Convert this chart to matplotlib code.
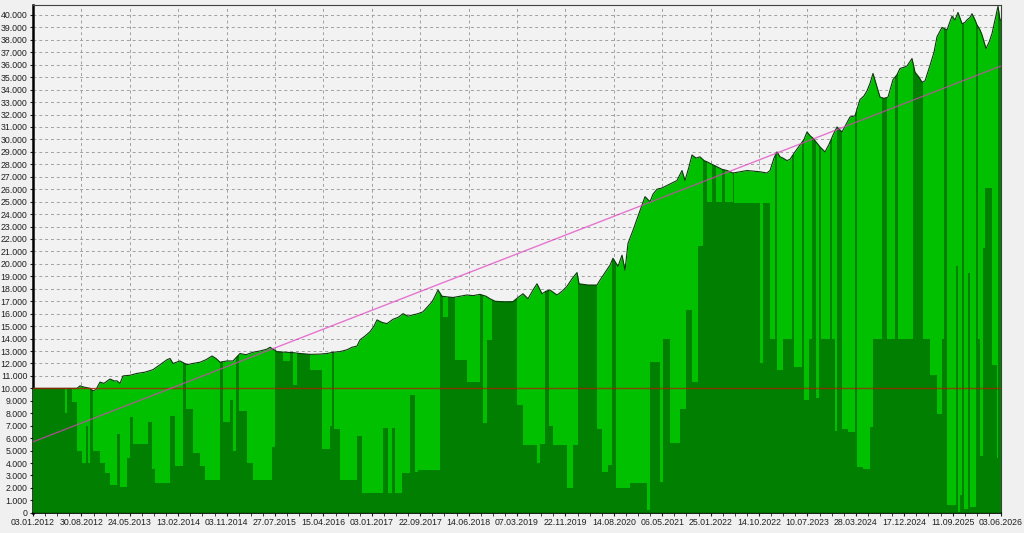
import numpy as np
import matplotlib.pyplot as plt
from matplotlib.ticker import FuncFormatter

# equity curve: deal index -> value in thousands
eq_x = [0, 44, 47, 51, 57, 60, 63, 67, 71, 77, 81, 84, 87, 90, 97, 104, 112, 120, 127, 134,
        137, 140, 147, 154, 160, 167, 173, 179, 183, 187, 194, 200, 207, 213, 220, 227, 234, 237, 244, 252,
        260, 267, 277, 287, 294, 300, 307, 314, 319, 324, 327, 332, 337, 341, 344, 349, 354, 360, 365, 370,
        375, 380, 385, 390, 395, 399, 402, 405, 409, 414, 420, 427, 434, 440, 447, 453, 457, 462, 467, 474,
        480, 485, 490, 495, 500, 504, 509, 513, 517, 524, 529, 534, 539, 544, 546, 555, 564, 567, 572, 577,
        580, 585, 589, 592, 595, 600, 604, 607, 612, 617, 620, 624, 629, 634, 639, 644, 649, 652, 656, 659,
        663, 667, 671, 674, 679, 684, 689, 694, 700, 707, 714, 720, 727, 734, 737, 741, 744, 747, 750, 754,
        757, 762, 767, 771, 774, 777, 780, 784, 787, 792, 796, 800, 804, 809, 813, 817, 822, 827, 831, 834,
        837, 840, 844, 847, 851, 855, 860, 864, 867, 871, 874, 879, 882, 886, 889, 892, 897, 901, 904, 909,
        914, 919, 922, 925, 929, 932, 934, 937, 939, 942, 944, 947, 949, 953, 956, 959, 962, 965, 967, 968]
eq_k = [10.0, 10.0, 10.2, 10.1, 10.0, 9.8, 9.9, 10.5, 10.4, 10.75, 10.6, 10.6, 10.4, 11.0, 11.05, 11.2, 11.3, 11.5, 11.9, 12.3,
        12.4, 12.0, 12.2, 11.9, 12.0, 12.1, 12.3, 12.6, 12.4, 12.1, 12.2, 12.2, 12.8, 12.7, 12.9, 13.0, 13.15, 13.3, 12.95, 12.9,
        12.87, 12.8, 12.73, 12.75, 12.8, 12.9, 12.95, 13.1, 13.3, 13.4, 13.9, 14.2, 14.55, 15.0, 15.5, 15.3, 15.2, 15.55, 15.7, 16.0,
        15.8, 15.9, 16.0, 16.15, 16.6, 16.95, 17.4, 17.9, 17.4, 17.35, 17.3, 17.4, 17.5, 17.45, 17.55, 17.4, 17.2, 17.0, 16.97, 16.95,
        16.97, 17.3, 17.6, 17.2, 17.9, 18.4, 17.6, 17.8, 17.9, 17.5, 17.8, 18.2, 18.8, 19.3, 18.4, 18.3, 18.3, 18.7, 19.3, 19.9,
        20.45, 19.8, 20.7, 19.5, 21.65, 22.7, 23.6, 24.3, 25.4, 25.0, 25.6, 26.0, 26.1, 26.3, 26.5, 26.7, 27.5, 26.7, 27.8, 28.75,
        28.5, 28.6, 28.3, 28.2, 28.0, 27.8, 27.6, 27.5, 27.3, 27.4, 27.5, 27.45, 27.4, 27.3, 27.5, 28.5, 29.0, 28.6, 28.5, 28.3,
        28.4, 29.0, 29.55, 30.0, 30.6, 30.3, 30.1, 29.7, 29.4, 29.0, 29.6, 30.35, 31.0, 30.6, 31.2, 31.8, 31.9, 33.2, 33.5, 33.9,
        34.5, 35.3, 34.2, 33.4, 33.3, 33.4, 34.8, 35.2, 35.7, 35.8, 35.9, 36.5, 35.4, 35.0, 34.6, 34.7, 35.95, 37.0, 38.25, 39.0,
        38.8, 39.9, 39.6, 40.2, 39.3, 39.4, 39.6, 39.8, 40.1, 39.6, 39.2, 38.8, 38.4, 37.3, 37.8, 38.5, 39.6, 40.7, 39.6, 39.6]

# second series (step bars), 45 = reaches up to the equity curve
dark_x = [0, 32, 34, 39, 44, 49, 53, 55, 57, 60, 67, 72, 77, 84, 87, 94, 97, 100, 115, 119,
          122, 137, 142, 150, 153, 160, 167, 172, 187, 190, 197, 200, 203, 206, 214, 220, 239, 242, 250, 257,
          260, 264, 277, 289, 297, 299, 301, 307, 324, 329, 350, 355, 359, 362, 369, 377, 382, 385, 407, 410,
          415, 422, 434, 447, 450, 454, 459, 484, 490, 504, 507, 512, 516, 520, 534, 540, 545, 564, 569, 575,
          579, 583, 597, 614, 617, 627, 630, 637, 647, 653, 659, 665, 670, 674, 679, 683, 689, 692, 700, 701,
          727, 730, 737, 742, 744, 750, 759, 761, 769, 771, 776, 779, 783, 786, 788, 797, 799, 802, 804, 809,
          815, 822, 824, 830, 837, 840, 849, 854, 862, 865, 880, 890, 897, 904, 909, 911, 914, 923, 925, 927,
          929, 931, 935, 937, 943, 945, 947, 950, 952, 959, 964, 965, 968]
dark_k = [10.0, 8.0, 10.0, 8.9, 5.0, 4.0, 7.0, 4.0, 45, 5.0, 4.0, 3.2, 2.2, 6.3, 2.1, 4.4, 7.7, 5.5, 7.3, 3.5,
          2.4, 7.8, 3.8, 45, 8.3, 4.8, 3.8, 2.6, 45, 7.3, 9.1, 5.0, 45, 8.2, 4.0, 2.6, 5.3, 45, 12.2, 45,
          10.3, 45, 11.5, 5.1, 7.0, 45, 6.7, 2.6, 6.2, 1.6, 6.8, 1.6, 6.8, 1.6, 3.2, 9.5, 3.3, 3.4, 45, 15.75,
          45, 12.3, 10.5, 45, 7.2, 13.9, 45, 8.65, 5.45, 4.0, 5.5, 45, 7.0, 5.45, 2.0, 5.45, 45, 6.7, 3.3, 3.85,
          45, 2.0, 2.4, 0.2, 12.1, 2.5, 14.0, 5.6, 8.3, 16.3, 10.5, 21.4, 45, 25.0, 45, 25.0, 45, 25.0, 45, 24.9,
          12.0, 24.9, 14.0, 45, 11.5, 14.0, 45, 11.7, 45, 9.1, 14.0, 45, 9.2, 45, 14.0, 45, 14.0, 6.6, 45, 6.7,
          6.5, 45, 3.7, 3.5, 6.9, 14.0, 45, 14.0, 45, 14.0, 45, 14.0, 11.1, 7.9, 14.0, 45, 0.6, 19.8, 0.1, 1.4,
          45, 0.3, 19.3, 0.5, 45, 14.0, 4.6, 21.3, 26.1, 11.9, 4.4, 45, 45]

deposit = 10000
trend = [5700, 35900]  # straight trend line, first and last deal

date_labels = ['03.01.2012', '30.08.2012', '24.05.2013', '13.02.2014', '03.11.2014', '27.07.2015',
               '15.04.2016', '03.01.2017', '22.09.2017', '14.06.2018', '07.03.2019', '22.11.2019',
               '14.08.2020', '06.05.2021', '25.01.2022', '14.10.2022', '10.07.2023', '28.03.2024',
               '17.12.2024', '11.09.2025', '03.06.2026']

equity = np.array(eq_k) * 1000
dark = np.array(dark_k) * 1000
n_last = eq_x[-1]

plt.rcParams['font.family'] = ['Liberation Sans', 'DejaVu Sans']

fig = plt.figure(figsize=(10.24, 5.33), dpi=100, facecolor='#F0F0F0')
ax = fig.add_axes([33 / 1024, 20.2 / 533, 968 / 1024, 507.8 / 533])
ax.set_facecolor('#F2F2F2')

# light green equity area
light = ax.fill_between(eq_x, 0, equity, color='#00C000', linewidth=0, zorder=2)
# dark green bars, clipped to the equity area
dk = ax.fill_between(dark_x, 0, dark, step='post', color='#007F00', linewidth=0, zorder=3)
dk.set_clip_path(light.get_paths()[0], ax.transData)
ax.plot(eq_x, equity, color='#0A3A0A', linewidth=0.8, zorder=4)

ax.axhline(deposit, color='#B02000', alpha=0.75, linewidth=1, zorder=5)
ax.plot([0, n_last], trend, color='#E040C0', alpha=0.7, linewidth=1, zorder=5)

ax.set_xlim(0, n_last)
ax.set_ylim(0, 40800)

ax.set_yticks(np.arange(0, 40001, 1000))
ax.yaxis.set_major_formatter(FuncFormatter(lambda v, p: f"{int(v):,}".replace(',', '.')))
ax.set_xticks(np.linspace(0, n_last, len(date_labels)))
ax.set_xticklabels(date_labels)
ax.set_xticks(np.linspace(0, n_last, (len(date_labels) - 1) * 4 + 1), minor=True)

ax.tick_params(axis='both', labelsize=6.3, colors='#202020', length=2.5, width=0.8, pad=1.5)
ax.tick_params(axis='x', which='minor', length=2, width=0.6, colors='#202020')

ax.grid(True, color='#A0A0A0', linestyle=(0, (3, 3)), linewidth=0.7)
ax.set_axisbelow(True)

ax.spines['left'].set_linewidth(1.8)
ax.spines['left'].set_color('black')
ax.spines['bottom'].set_linewidth(1.2)
ax.spines['bottom'].set_linestyle((0, (1, 1)))
ax.spines['bottom'].set_color('black')
for s in ['top', 'right']:
    ax.spines[s].set_linewidth(0.8)
    ax.spines[s].set_color('#404040')

fig.savefig('out.png', dpi=100, facecolor=fig.get_facecolor())
